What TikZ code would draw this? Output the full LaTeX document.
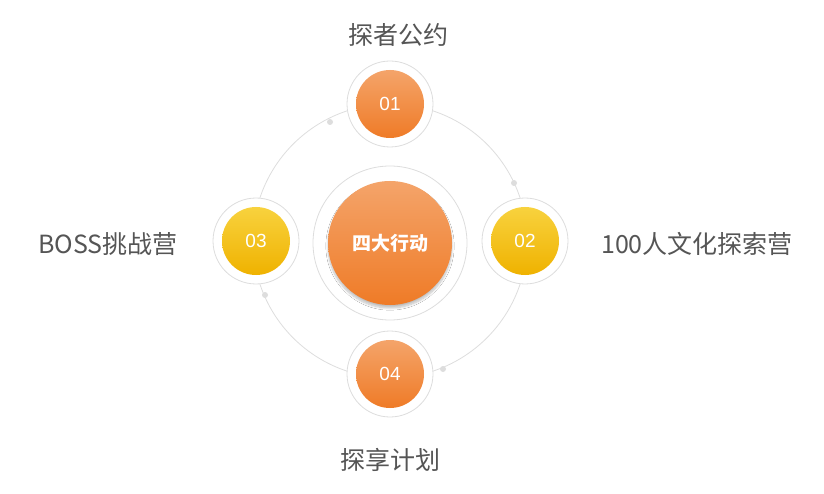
\documentclass[tikz,border=0pt]{standalone}
\usepackage{fontspec}
\setmainfont{Liberation Sans}
\newfontfamily\cjk{Noto Sans CJK SC}
\usetikzlibrary{shadows.blur}
\definecolor{orA}{HTML}{F4A46A}
\definecolor{orB}{HTML}{EF7B27}
\definecolor{yeA}{HTML}{F8D23E}
\definecolor{yeB}{HTML}{EFB200}
\definecolor{ringc}{HTML}{DDDDDD}
\definecolor{txt}{HTML}{555555}
\tikzset{
 ring/.style={circle,draw=ringc,line width=0.8pt,fill=white,minimum size=#1},
 orb/.style={circle,inner sep=0pt,minimum size=68pt,shading=axis,shading angle=135,top color=orA,bottom color=orB,text=white,font=\fontsize{19}{19}\selectfont},
 yeb/.style={circle,inner sep=0pt,minimum size=68pt,shading=axis,top color=yeA,bottom color=yeB,text=white,font=\fontsize{19}{19}\selectfont},
 lab/.style={text=txt,font=\cjk\fontsize{25}{25}\selectfont},
 dot/.style={circle,fill=ringc,inner sep=0pt,minimum size=6pt},
}
\begin{document}
\begin{tikzpicture}[x=1pt,y=-1pt]
\useasboundingbox (0,0) rectangle (824,494);
\draw[ringc,line width=0.8pt] (390,241) circle (137);
\node[ring=154pt] (cr) at (390,243) {};
\node[circle,inner sep=0pt,minimum size=124pt,shading=axis,top color=orA,bottom color=orB,blur shadow={shadow blur steps=8,shadow xshift=0pt,shadow yshift=-3pt,shadow opacity=25},text=white,font=\cjk\bfseries\fontsize{19}{19}\selectfont] (c) at (390,243) {四大行动};
\node[ring=86pt] (r1) at (390,104) {};
\node[ring=86pt] (r2) at (525,241) {};
\node[ring=86pt] (r3) at (256,241) {};
\node[ring=86pt] (r4) at (390,374) {};
\node[orb] (n1) at (390,104) {01};
\node[yeb] (n2) at (525,241) {02};
\node[yeb] (n3) at (256,241) {03};
\node[orb] (n4) at (390,374) {04};
\node[dot] (d1) at (330,122) {};
\node[dot] (d2) at (514,183) {};
\node[dot] (d3) at (265,295) {};
\node[dot] (d4) at (443,369) {};
\node[lab] (t1) at (398,35) {探者公约};
\node[lab] (t2) at (697,244) {100人文化探索营};
\node[lab] (t3) at (108,244) {BOSS挑战营};
\node[lab] (t4) at (390,460) {探享计划};
\end{tikzpicture}
\end{document}
